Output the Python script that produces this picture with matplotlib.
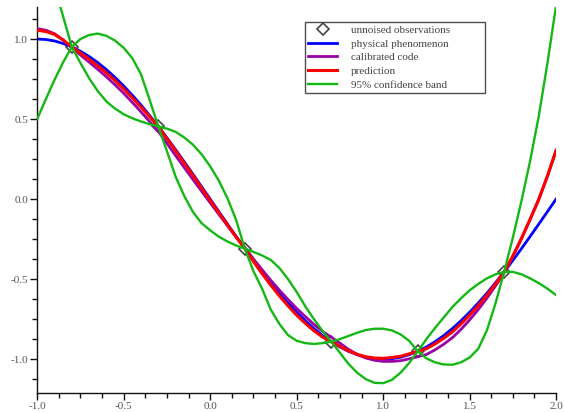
import matplotlib
matplotlib.use("Agg")
import matplotlib.pyplot as plt
from matplotlib.ticker import MultipleLocator, FormatStrFormatter

# ---- data ----
x = [-1.00, -0.95, -0.90, -0.85, -0.80, -0.75, -0.70, -0.65, -0.60, -0.55,
     -0.50, -0.45, -0.40, -0.35, -0.30, -0.25, -0.20, -0.15, -0.10, -0.05,
     0.00, 0.05, 0.10, 0.15, 0.20, 0.25, 0.30, 0.35, 0.40, 0.45,
     0.50, 0.55, 0.60, 0.65, 0.70, 0.75, 0.80, 0.85, 0.90, 0.95,
     1.00, 1.05, 1.10, 1.15, 1.20, 1.25, 1.30, 1.35, 1.40, 1.45,
     1.50, 1.55, 1.60, 1.65, 1.70, 1.75, 1.80, 1.85, 1.90, 1.95, 2.00]

obs_x = [-0.8, -0.3, 0.2, 0.7, 1.2, 1.7]
obs_y = [0.951, 0.454, -0.309, -0.891, -0.951, -0.454]

physical = [1.000, 0.997, 0.988, 0.972, 0.951, 0.924, 0.891, 0.853, 0.809, 0.760,
            0.707, 0.649, 0.588, 0.522, 0.454, 0.383, 0.309, 0.233, 0.156, 0.078,
            0.000, -0.078, -0.156, -0.233, -0.309, -0.383, -0.454, -0.522, -0.588, -0.649,
            -0.707, -0.760, -0.809, -0.853, -0.891, -0.924, -0.951, -0.972, -0.988, -0.997,
            -1.000, -0.997, -0.988, -0.972, -0.951, -0.924, -0.891, -0.853, -0.809, -0.760,
            -0.707, -0.649, -0.588, -0.522, -0.454, -0.383, -0.309, -0.233, -0.156, -0.078, 0.000]

calibrated = [1.065, 1.055, 1.033, 0.994, 0.946, 0.900, 0.856, 0.811, 0.764, 0.714,
              0.661, 0.604, 0.545, 0.484, 0.424, 0.348, 0.272, 0.197, 0.123, 0.050,
              -0.023, -0.095, -0.167, -0.237, -0.301, -0.374, -0.441, -0.507, -0.569, -0.627,
              -0.683, -0.734, -0.783, -0.827, -0.863, -0.900, -0.939, -0.970, -0.993, -1.007,
              -1.014, -1.014, -1.010, -0.998, -0.985, -0.971, -0.942, -0.907, -0.866, -0.814,
              -0.755, -0.690, -0.619, -0.542, -0.460, -0.358, -0.247, -0.127, -0.002, 0.143, 0.303]

prediction = [1.055, 1.047, 1.029, 0.994, 0.951, 0.912, 0.874, 0.833, 0.789, 0.741,
              0.689, 0.633, 0.575, 0.514, 0.454, 0.378, 0.302, 0.225, 0.148, 0.070,
              -0.008, -0.085, -0.162, -0.237, -0.309, -0.390, -0.465, -0.537, -0.605, -0.667,
              -0.725, -0.776, -0.823, -0.862, -0.891, -0.920, -0.949, -0.970, -0.985, -0.993,
              -0.995, -0.990, -0.982, -0.967, -0.951, -0.935, -0.905, -0.870, -0.830, -0.780,
              -0.725, -0.665, -0.600, -0.530, -0.454, -0.355, -0.245, -0.125, 0.000, 0.145, 0.305]

# the two green curves of the 95% band (they cross at every observation)
band_a = [0.500, 0.625, 0.745, 0.855, 0.951, 1.000, 1.025, 1.034, 1.020, 0.990,
          0.945, 0.880, 0.780, 0.620, 0.454, 0.300, 0.140, 0.020, -0.080, -0.150,
          -0.195, -0.235, -0.265, -0.290, -0.309, -0.330, -0.352, -0.380, -0.430, -0.500,
          -0.580, -0.670, -0.750, -0.825, -0.891, -0.960, -1.030, -1.085, -1.125, -1.148,
          -1.150, -1.130, -1.085, -1.025, -0.951, -0.875, -0.805, -0.740, -0.675, -0.620,
          -0.570, -0.530, -0.495, -0.470, -0.454, -0.455, -0.470, -0.495, -0.525, -0.560, -0.600]

band_b = [1.750, 1.530, 1.330, 1.140, 0.951, 0.850, 0.755, 0.675, 0.610, 0.565,
          0.530, 0.505, 0.485, 0.468, 0.454, 0.440, 0.420, 0.385, 0.340, 0.280,
          0.205, 0.115, 0.005, -0.130, -0.309, -0.450, -0.560, -0.690, -0.780, -0.850,
          -0.885, -0.900, -0.905, -0.900, -0.891, -0.875, -0.855, -0.835, -0.818, -0.810,
          -0.810, -0.820, -0.845, -0.885, -0.951, -0.995, -1.020, -1.033, -1.035, -1.020,
          -0.990, -0.935, -0.820, -0.650, -0.454, -0.240, -0.010, 0.240, 0.520, 0.850, 1.210]

# ---- figure ----
plt.rcParams['font.family'] = ['Liberation Serif', 'DejaVu Serif']
fig = plt.figure(figsize=(5.64, 4.13), dpi=100)
ax = fig.add_axes([0.066, 0.049, 0.920, 0.934])

ax.plot(obs_x, obs_y, linestyle='none', marker='D', markersize=6,
        markerfacecolor='none', markeredgecolor='#444444', markeredgewidth=1.2,
        zorder=1, label='unnoised observations')
ax.plot(x, physical, color='#0000ff', lw=2.0, zorder=2, label='physical phenomenon')
ax.plot(x, calibrated, color='#9a00a8', lw=2.0, zorder=3, label='calibrated code')
ax.plot(x, prediction, color='#ff0000', lw=2.2, zorder=4, label='prediction')
ax.plot(x, band_a, color='#14b814', lw=1.7, zorder=5, label='95% confidence band')
ax.plot(x, band_b, color='#14b814', lw=1.7, zorder=5)

ax.set_xlim(-1.0, 2.0)
ax.set_ylim(-1.21, 1.2)
ax.xaxis.set_major_locator(MultipleLocator(0.5))
ax.xaxis.set_minor_locator(MultipleLocator(0.125))
ax.yaxis.set_major_locator(MultipleLocator(0.5))
ax.yaxis.set_minor_locator(MultipleLocator(0.125))
ax.xaxis.set_major_formatter(FormatStrFormatter('%.1f'))
ax.yaxis.set_major_formatter(FormatStrFormatter('%.1f'))

for s in ['top', 'right']:
    ax.spines[s].set_visible(False)
for s in ['left', 'bottom']:
    ax.spines[s].set_linewidth(1.0)
    ax.spines[s].set_color('#111111')
ax.tick_params(which='major', direction='out', length=5, width=1.0,
               labelsize=8, labelcolor='#555555', color='#111111', pad=1.5)
ax.tick_params(which='minor', direction='out', length=3.5, width=1.0, color='#111111')

leg = ax.legend(loc='upper left', bbox_to_anchor=(0.541, 0.775, 0.319, 0.172),
                bbox_transform=fig.transFigure, mode='expand', fontsize=8, frameon=True,
                fancybox=False, borderpad=0.3, labelspacing=0.35,
                handlelength=2.6, handletextpad=1.2, borderaxespad=0)
leg.get_frame().set_edgecolor('#222222')
leg.get_frame().set_linewidth(1.0)
for t in leg.get_texts():
    t.set_color('#444444')

fig.savefig('out.png', dpi=100)
